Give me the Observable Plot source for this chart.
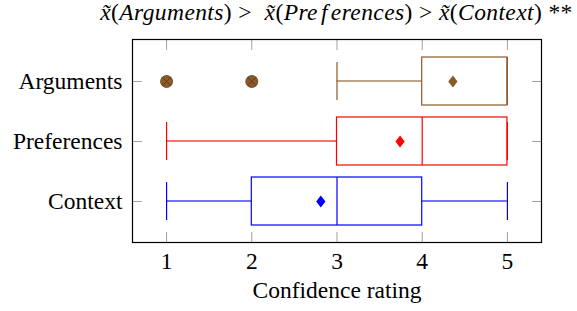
<!DOCTYPE html>
<html><head><meta charset="utf-8">
<script src="https://cdn.jsdelivr.net/npm/d3@7"></script>
<script src="https://cdn.jsdelivr.net/npm/@observablehq/plot@0.6"></script>
<style>
body{margin:0;background:#fff;}
#wrap{position:relative;width:577px;height:311px;}
#title{position:absolute;left:0;top:-1px;width:673px;text-align:center;white-space:nowrap;letter-spacing:0.4px;
 font-family:"Liberation Serif","Times New Roman",Times,"DejaVu Serif",serif;font-size:23.5px;line-height:26px;color:#000;}
#title i{font-style:italic;}
#chart svg, #chart svg text{font-family:"Liberation Serif","Times New Roman",Times,"DejaVu Serif",serif !important;}
</style>
</head><body>
<div id="wrap">
<div id="title"><i>x̃</i>(<i>Arguments</i>) &gt;&nbsp; <i>x̃</i>(<i>Pre</i><i style="margin:0 3px">f</i><i>erences</i>) &gt; <i>x̃</i>(<i>Context</i>) **</div>
<div id="chart"></div>
</div>
<script>
const categories = ["Arguments", "Preferences", "Context"];
const lowerWhisker = [3, 1, 1];
const q1 = [4, 3, 2];
const median = [5, 4, 3];
const q3 = [5, 5, 4];
const upperWhisker = [5, 5, 5];
const means = [4.36, 3.74, 2.81];
const colors = ["#8b5a2b", "#ff0000", "#0000ff"];
const outlierCategory = ["Arguments", "Arguments"];
const outlierValues = [1, 2];
const xTicks = [1, 2, 3, 4, 5];
const xLabel = "Confidence rating";

const rows = categories.map((c, i) => ({
  cat: c, lo: lowerWhisker[i], q1: q1[i], med: median[i], q3: q3[i],
  hi: upperWhisker[i], mean: means[i], col: colors[i]
}));
const outliers = outlierValues.map((v, i) => ({cat: outlierCategory[i], v, col: colors[categories.indexOf(outlierCategory[i])]}));

const diamond = {
  draw(ctx, size) {
    const r = Math.sqrt(size / Math.PI);
    const h = r * 1.2, w = r * 0.93;
    ctx.moveTo(0, -h); ctx.lineTo(w, 0); ctx.lineTo(0, h); ctx.lineTo(-w, 0); ctx.closePath();
  }
};

const FS = 23.5;
const font = "'Liberation Serif', 'Times New Roman', Times, serif";
const SW = 1.2;
const C = d => d.col;
const WI = 23.45; // inset that leaves a thin whisker line in the band

const chart = Plot.plot({
  width: 577, height: 311,
  marginLeft: 132, marginRight: 36, marginTop: 39, marginBottom: 69,
  style: {fontFamily: font, fontSize: FS + "px", background: "white", color: "black"},
  x: {domain: [0.6, 5.4]},
  y: {type: "band", domain: categories, paddingInner: 0.2, paddingOuter: 0.275},
  color: {type: "identity"},
  marks: [
    Plot.axisX(xTicks, {anchor: "bottom", tickSize: 0, tickPadding: 10, fontSize: FS, label: null}),
    Plot.axisX(xTicks, {anchor: "bottom", tickSize: -10, tickFormat: () => "", stroke: "#a0a0a0", label: null}),
    Plot.axisX(xTicks, {anchor: "top", tickSize: -10, tickFormat: () => "", stroke: "#a0a0a0", label: null}),
    Plot.axisY({anchor: "left", tickSize: 0, tickPadding: 10, fontSize: FS, label: null}),
    Plot.axisY({anchor: "left", tickSize: -10, tickFormat: () => "", stroke: "#a0a0a0", label: null}),
    Plot.axisY({anchor: "right", tickSize: -10, tickFormat: () => "", stroke: "#a0a0a0", label: null}),
    Plot.barX(rows, {y: "cat", x1: "lo", x2: "q1", fill: C, insetTop: WI, insetBottom: WI}),
    Plot.barX(rows, {y: "cat", x1: "q3", x2: "hi", fill: C, insetTop: WI, insetBottom: WI}),
    Plot.tickX(rows, {x: "lo", y: "cat", stroke: C, insetTop: 5, insetBottom: 5, strokeWidth: SW}),
    Plot.tickX(rows, {x: "hi", y: "cat", stroke: C, insetTop: 5, insetBottom: 5, strokeWidth: SW}),
    Plot.barX(rows, {x1: "q1", x2: "q3", y: "cat", fill: "none", stroke: C, strokeWidth: SW}),
    Plot.tickX(rows, {x: "med", y: "cat", stroke: C, strokeWidth: SW}),
    Plot.dot(rows, {x: "mean", y: "cat", fill: C, symbol: diamond, r: 5, stroke: null}),
    Plot.dot(outliers, {x: "v", y: "cat", fill: C, r: 6, stroke: "#5e3a17", strokeWidth: 0.8}),
    Plot.dot(outliers, {x: "v", y: "cat", symbol: "times", r: 4.2, stroke: "#5e3a17", strokeWidth: 0.9}),
    Plot.text([xLabel], {frameAnchor: "bottom", dy: 55, lineAnchor: "bottom", fontSize: FS, fill: "black"}),
    Plot.frame({stroke: "black", strokeWidth: 1.2})
  ]
});
document.getElementById("chart").appendChild(chart);
</script>
</body></html>
